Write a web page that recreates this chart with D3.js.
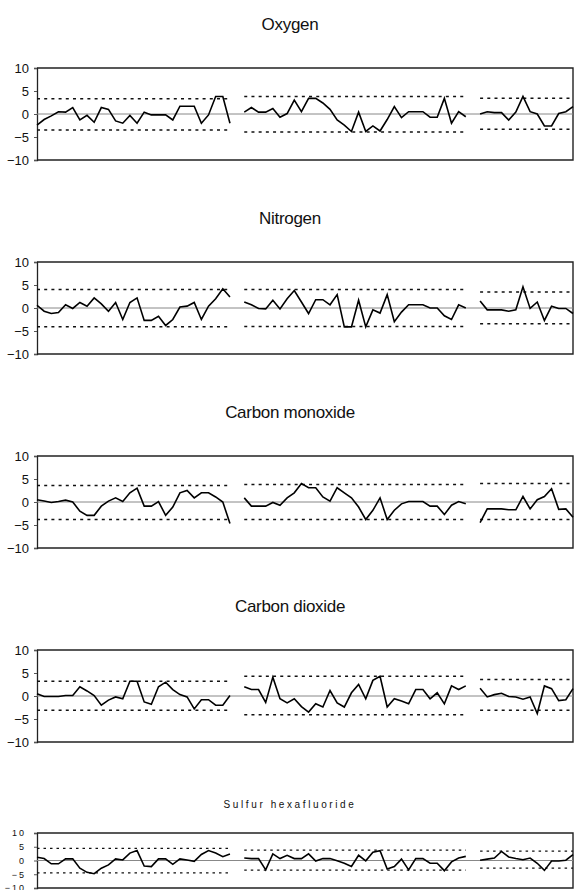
<!DOCTYPE html>
<html>
<head>
<meta charset="utf-8">
<script src="https://cdn.jsdelivr.net/npm/d3@7/dist/d3.min.js"></script>
<style>
body { margin: 0; background: #fff; }
svg { display: block; font-family: "Liberation Sans", Arial, sans-serif; }
</style>
</head>
<body>
<svg width="574" height="890"></svg>
<script>
// run index where each of the three series segments starts
var segStart = [0, 29, 62];
var lastIndex = 75;
var yTicks = [10, 5, 0, -5, -10];

var titles = ["Oxygen", "Nitrogen", "Carbon monoxide", "Carbon dioxide", "Sulfur hexafluoride"];

// values, one array per segment
var oxygen = [
    [-2.4, -1.2, -0.4, 0.5, 0.4, 1.4, -1.3, -0.3, -1.8, 1.4, 1.0, -1.5, -2.0, -0.3, -2.0, 0.4, -0.2, -0.2, -0.2, -1.3, 1.7, 1.7, 1.7, -2.0, -0.2, 3.8, 3.8, -2.0],
    [0.4, 1.4, 0.4, 0.4, 1.2, -0.7, 0.1, 3.0, 0.5, 3.4, 3.4, 2.4, 1.0, -1.3, -2.4, -3.8, 0.4, -3.8, -2.6, -3.7, -1.2, 1.6, -0.8, 0.5, 0.5, 0.5, -0.7, -0.7, 3.4, -2.0, 0.5, -0.6],
    [0.0, 0.5, 0.3, 0.3, -1.3, 0.4, 3.8, 0.5, 0.0, -2.6, -2.6, 0.1, 0.5, 1.6]
];
var nitrogen = [
    [0.6, -0.7, -1.2, -1.0, 0.7, -0.1, 1.2, 0.4, 2.2, 0.9, -0.7, 1.2, -2.5, 1.2, 2.2, -2.7, -2.7, -1.8, -3.8, -2.5, 0.2, 0.4, 1.2, -2.5, 0.4, 2.0, 4.2, 2.4],
    [1.3, 0.7, -0.1, -0.2, 1.7, -0.2, 2.0, 3.8, 1.3, -1.2, 1.8, 1.8, 0.7, 2.9, -4.1, -4.1, 1.7, -4.1, -0.4, -1.1, 2.9, -3.0, -0.9, 0.7, 0.7, 0.7, 0.0, 0.0, -1.7, -2.5, 0.7, 0.0],
    [1.5, -0.4, -0.4, -0.4, -0.7, -0.4, 4.6, -0.1, 1.3, -2.7, 0.4, -0.1, -0.1, -1.2]
];
var carbonMonoxide = [
    [0.5, 0.2, -0.1, 0.1, 0.4, 0.0, -2.0, -2.9, -2.9, -0.9, 0.2, 0.9, 0.1, 2.0, 3.0, -0.9, -0.9, 0.1, -2.9, -1.1, 2.0, 2.5, 0.9, 2.0, 2.0, 1.1, 0.0, -4.7],
    [0.9, -0.9, -0.9, -0.9, -0.1, -0.7, 0.9, 2.0, 4.0, 3.1, 3.1, 1.1, 0.2, 3.1, 2.0, 0.9, -1.1, -3.8, -1.8, 0.9, -3.8, -1.8, -0.4, 0.1, 0.1, 0.1, -0.9, -0.9, -2.7, -0.7, 0.1, -0.4],
    [-4.5, -1.5, -1.5, -1.5, -1.7, -1.7, 1.2, -1.5, 0.5, 1.2, 2.9, -1.6, -1.5, -3.3]
];
var carbonDioxide = [
    [0.5, -0.1, -0.1, -0.1, 0.1, 0.1, 2.0, 1.1, 0.1, -2.0, -0.9, -0.2, -0.6, 3.2, 3.2, -1.3, -1.8, 2.0, 3.0, 1.4, 0.3, -0.2, -2.8, -0.8, -0.8, -2.0, -2.0, 0.1],
    [2.0, 1.4, 1.4, -1.4, 4.1, -0.6, -1.5, -0.6, -2.3, -3.5, -1.7, -2.4, 1.2, -1.5, -2.4, 0.7, 2.5, -0.6, 3.4, 4.3, -2.4, -0.6, -1.1, -1.7, 1.4, 1.4, -0.6, 0.7, -1.7, 2.2, 1.4, 2.2],
    [1.7, -0.2, 0.3, 0.6, -0.1, -0.2, -0.7, -0.2, -3.8, 2.2, 1.6, -1.0, -0.8, 1.6]
];
var sulfurHexafluoride = [
    [1.2, 0.7, -1.2, -1.2, 0.6, 0.6, -2.8, -4.3, -4.8, -2.8, -1.6, 0.6, 0.2, 2.7, 3.6, -2.0, -2.2, 0.6, 0.6, -1.4, 0.6, 0.2, -0.3, 2.2, 3.6, 2.7, 1.4, 2.4],
    [0.9, 0.7, 0.7, -3.4, 2.4, 0.7, 1.9, 0.7, 0.7, 2.4, -0.2, 0.7, 0.7, -0.1, -1.0, -2.2, 1.9, -0.1, 3.0, 3.6, -3.1, -2.2, 0.5, -3.4, 0.7, 0.7, -1.0, -1.0, -3.7, -0.5, 0.9, 1.5],
    [0.1, 0.5, 0.9, 3.3, 1.3, 0.7, 0.3, 0.9, -1.0, -3.6, -0.2, -0.2, 0.1, 2.1]
];

// control limits [upper, lower] per segment
var oxygenLimits = [[3.3, -3.5], [3.8, -3.9], [3.4, -3.3]];
var nitrogenLimits = [[4.0, -4.1], [4.0, -4.0], [3.5, -3.4]];
var carbonMonoxideLimits = [[3.6, -3.8], [3.8, -3.8], [4.0, -3.8]];
var carbonDioxideLimits = [[3.2, -3.1], [4.3, -4.1], [3.6, -3.1]];
var sulfurHexafluorideLimits = [[4.4, -4.5], [3.8, -3.5], [3.4, -2.8]];

var allValues = [oxygen, nitrogen, carbonMonoxide, carbonDioxide, sulfurHexafluoride];
var allLimits = [oxygenLimits, nitrogenLimits, carbonMonoxideLimits, carbonDioxideLimits, sulfurHexafluorideLimits];

// layout
var plotLeft = 37, plotRight = 573;
var panelTop = [68, 262, 456, 650, 833];
var panelHeight = [92, 92, 92, 92, 55];

var svg = d3.select("svg");

var x = d3.scaleLinear().domain([0, lastIndex]).range([plotLeft, plotRight]);

titles.forEach(function(title, p) {
    var small = p == 4;
    var top = panelTop[p], h = panelHeight[p];
    var y = d3.scaleLinear().domain([-10, 10]).range([top + h, top]);

    // title
    svg.append("text")
        .attr("x", 290)
        .attr("y", top - (small ? 25 : 38))
        .attr("text-anchor", "middle")
        .style("font-size", small ? "10px" : "17px")
        .style("letter-spacing", small ? "2.6px" : "-0.3px")
        .attr("fill", "#111")
        .text(title);

    // y axis
    var axis = svg.append("g")
        .attr("transform", "translate(" + plotLeft + ",0)")
        .call(d3.axisLeft(y).tickValues(yTicks).tickSize(3).tickPadding(small ? 8 : 5));
    axis.select(".domain").attr("stroke", "#222").attr("stroke-width", 1.3);
    axis.selectAll(".tick line").attr("stroke", "#555");
    axis.selectAll(".tick text")
        .attr("fill", "#111")
        .style("font-family", "'Liberation Sans', Arial, sans-serif")
        .style("font-size", small ? "9px" : "13px")
        .style("letter-spacing", small ? "2px" : "0px");

    // frame: top, right, bottom
    svg.append("path")
        .attr("d", "M" + plotLeft + "," + y(10) + "H" + plotRight + "V" + y(-10) + "H" + plotLeft)
        .attr("fill", "none")
        .attr("stroke", "#222")
        .attr("stroke-width", 1.4);

    // zero line
    svg.append("line")
        .attr("x1", plotLeft).attr("x2", plotRight)
        .attr("y1", y(0)).attr("y2", y(0))
        .attr("stroke", "#888")
        .attr("stroke-width", 1);

    var line = d3.line()
        .x(function(d) { return x(d.i); })
        .y(function(d) { return y(d.v); });

    allValues[p].forEach(function(seg, s) {
        var start = segStart[s];
        var pts = seg.map(function(v, k) { return {i: start + k, v: v}; });
        var end = start + seg.length - 1;

        // control limits
        allLimits[p][s].forEach(function(lim) {
            svg.append("line")
                .attr("x1", x(start)).attr("x2", x(end))
                .attr("y1", y(lim)).attr("y2", y(lim))
                .attr("stroke", "#111")
                .attr("stroke-width", small ? 1.2 : 1.5)
                .attr("stroke-dasharray", small ? "2.5,4" : "3,4.2");
        });

        svg.append("path")
            .datum(pts)
            .attr("d", line)
            .attr("fill", "none")
            .attr("stroke", "#000")
            .attr("stroke-width", 1.6)
            .attr("stroke-linejoin", "miter");
    });
});
</script>
</body>
</html>
